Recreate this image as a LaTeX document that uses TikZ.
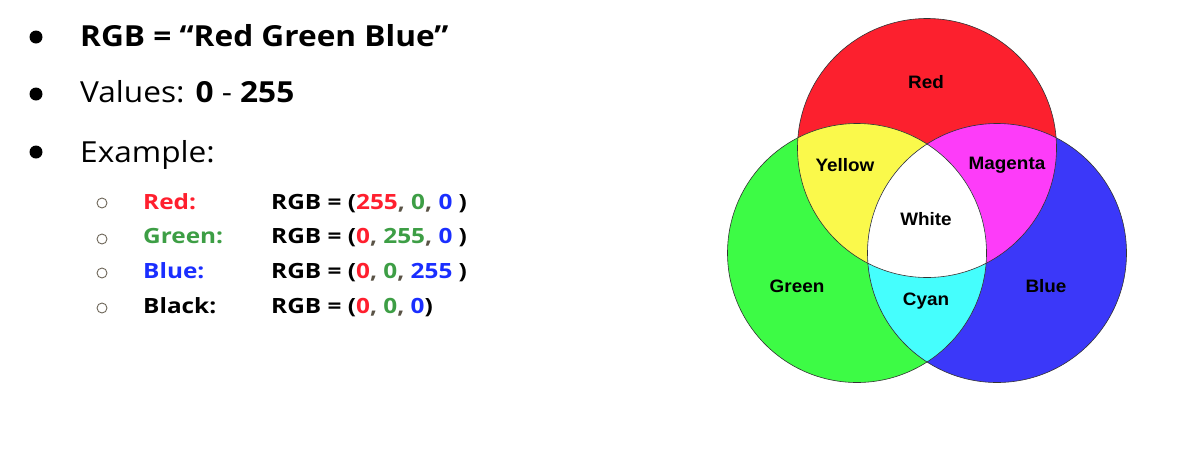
\documentclass[tikz,border=0pt]{standalone}
\usepackage{fontspec}
\setmainfont{Open Sans}
\newfontfamily\mainfam{Open Sans}[FakeStretch=1.09]
\newfontfamily\subfam{Open Sans}[FakeStretch=1.16]
\newfontfamily\vennfont{Liberation Sans}[FakeStretch=1.05]
\definecolor{tred}{HTML}{FF1F2E}
\definecolor{tgreen}{HTML}{3D9E45}
\definecolor{tblue}{HTML}{1A2EFF}
\definecolor{tgray}{HTML}{5A5346}
\definecolor{cgray}{HTML}{6E675A}
\definecolor{vred}{HTML}{FC202E}
\definecolor{vgreen}{HTML}{3DFB45}
\definecolor{vblue}{HTML}{3B38F9}
\definecolor{vyellow}{HTML}{FAF94B}
\definecolor{vmagenta}{HTML}{FD3CF9}
\definecolor{vcyan}{HTML}{45FEFD}
\newcommand{\R}[1]{\textcolor{tred}{#1}}
\newcommand{\G}[1]{\textcolor{tgreen}{#1}}
\newcommand{\B}[1]{\textcolor{tblue}{#1}}
\newcommand{\cm}{\textcolor{tgray}{,}}
\begin{document}
\begin{tikzpicture}[x=1pt,y=-1pt,
  mainline/.style={anchor=base west, inner sep=0pt, font=\mainfam\fontsize{29}{34}\selectfont},
  subline/.style={anchor=base west, inner sep=0pt, font=\subfam\fontsize{21}{24}\selectfont\bfseries},
  venn/.style={font=\vennfont\bfseries\fontsize{18}{20}\selectfont, inner sep=0pt},
  bigdot/.style={circle, fill=black, minimum size=13pt, inner sep=0pt},
  smalldot/.style={circle, draw=cgray, line width=0.9pt, minimum size=10pt, inner sep=0pt},
  ring/.style={draw=black!80, line width=0.6pt}]
\useasboundingbox (0,0) rectangle (1182,464);
% main bullets
\node[bigdot] (b1) at (36,37) {};
\node[bigdot] (b2) at (36,94) {};
\node[bigdot] (b3) at (36,152) {};
\node[mainline] (t1) at (80,46) {\bfseries RGB = “Red Green Blue”};
\node[mainline] (t2) at (80,102) {Values: \textbf{0} - \textbf{255}};
\node[mainline] (t3) at (80,162) {Example:};
% sub bullets
\node[smalldot] (s1) at (102,203) {};
\node[smalldot] (s2) at (102,239) {};
\node[smalldot] (s3) at (102,273) {};
\node[smalldot] (s4) at (102,308) {};
\node[subline] (l1) at (143,209) {\R{Red:}};
\node[subline] (l2) at (143,243) {\G{Green:}};
\node[subline] (l3) at (143,278) {\B{Blue:}};
\node[subline] (l4) at (143,313) {Black:};
\node[subline] (r1) at (271,209) {RGB = (\R{255}\cm{} \G{0}\cm{} \B{0} )};
\node[subline] (r2) at (271,243) {RGB = (\R{0}\cm{} \G{255}\cm{} \B{0} )};
\node[subline] (r3) at (271,278) {RGB = (\R{0}\cm{} \G{0}\cm{} \B{255} )};
\node[subline] (r4) at (271,313) {RGB = (\R{0}\cm{} \G{0}\cm{} \B{0})};
% Venn diagram
\coordinate (cr) at (927,148);
\coordinate (cg) at (857,253);
\coordinate (cb) at (997,253);
\fill[vred] (cr) circle[radius=129.5pt];
\fill[vgreen] (cg) circle[radius=129.5pt];
\fill[vblue] (cb) circle[radius=129.5pt];
\begin{scope}
  \clip (cr) circle[radius=129.5pt];
  \fill[vyellow] (cg) circle[radius=129.5pt];
  \fill[vmagenta] (cb) circle[radius=129.5pt];
\end{scope}
\begin{scope}
  \clip (cg) circle[radius=129.5pt];
  \fill[vcyan] (cb) circle[radius=129.5pt];
  \clip (cb) circle[radius=129.5pt];
  \fill[white] (cr) circle[radius=129.5pt];
\end{scope}
\draw[ring] (cr) circle[radius=129.5pt];
\draw[ring] (cg) circle[radius=129.5pt];
\draw[ring] (cb) circle[radius=129.5pt];
\node[venn] (vr) at (926,82) {Red};
\node[venn] (vy) at (845,165) {Yellow};
\node[venn] (vm) at (1007,165) {Magenta};
\node[venn] (vw) at (926,219) {White};
\node[venn] (vg) at (797,286) {Green};
\node[venn] (vc) at (926,301) {Cyan};
\node[venn] (vb) at (1046,286) {Blue};
\end{tikzpicture}
\end{document}
